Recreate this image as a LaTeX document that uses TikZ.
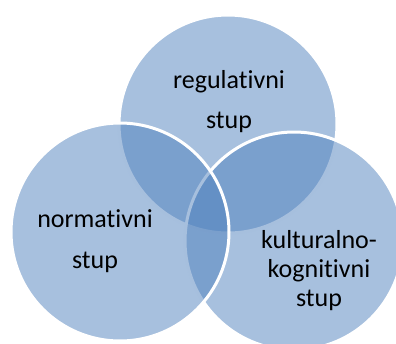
\documentclass[tikz,border=0pt]{standalone}
\usepackage{fontspec}
\setmainfont{Carlito}[Ligatures={NoCommon,NoRare,NoContextual}]
\definecolor{acc}{HTML}{4F81BD}
\tikzset{
  venn/.style={circle, minimum size=218pt, inner sep=0pt, fill=acc, fill opacity=0.5, draw=white, draw opacity=1, line width=3pt},
  lbl/.style={align=center, anchor=base, text=black, text opacity=1}
}
\begin{document}
\begin{tikzpicture}[x=1pt,y=-1pt]
\useasboundingbox (0,0) rectangle (396,343);
\node[venn] (top) at (228,124) {};
\node[venn] (right) at (294,241) {};
\node[venn] (left) at (120,232) {};
\node[lbl, font=\fontsize{26}{40}\selectfont] (tl) at (229,128) {regulativni\\stup};
\node[lbl, font=\fontsize{26}{41}\selectfont] (ll) at (95,268) {normativni\\stup};
\node[lbl, font=\fontsize{26}{29}\selectfont] (rl) at (319,306) {kulturalno-\\kognitivni\\stup};
\end{tikzpicture}
\end{document}
